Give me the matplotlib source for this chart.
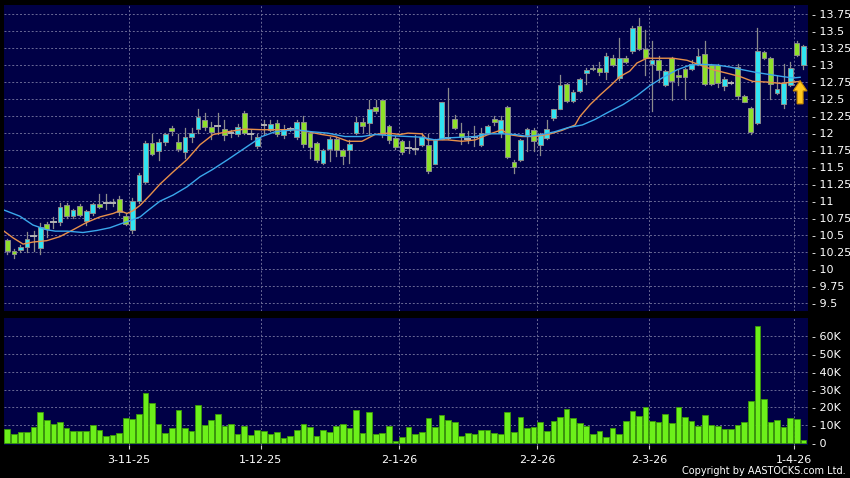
import numpy as np
import matplotlib
matplotlib.use("Agg")
import matplotlib.pyplot as plt
from matplotlib.patches import Rectangle

# Daily candles, one per trading day (HKD).
OPEN = [10.43, 10.27, 10.29, 10.33, 10.49, 10.31, 10.66, 10.70, 10.69, 10.95,
        10.78, 10.93, 10.71, 10.82, 10.96, 10.98, 10.98, 11.03, 10.78, 10.58,
        11.01, 11.28, 11.86, 11.74, 11.87, 12.08, 11.87, 11.72, 11.94, 12.06,
        12.20, 12.09, 12.10, 12.06, 12.00, 11.98, 12.29, 11.99, 11.81, 12.12,
        12.05, 12.15, 11.97, 12.06, 11.94, 12.16, 12.00, 11.85, 11.56, 11.76,
        11.91, 11.75, 11.75, 12.00, 12.17, 12.15, 12.38, 12.48, 12.10, 11.93,
        11.88, 11.78, 11.77, 11.83, 11.83, 11.55, 11.92, 11.93, 12.21, 12.00,
        11.92, 11.95, 11.83, 12.00, 12.21, 12.00, 12.38, 11.58, 11.61, 11.97,
        12.05, 11.82, 11.93, 12.22, 12.36, 12.72, 12.47, 12.62, 12.88, 12.94,
        12.96, 12.90, 13.10, 12.81, 13.11, 13.20, 13.58, 13.24, 13.02, 13.07,
        12.71, 13.10, 12.86, 12.94, 12.94, 13.02, 13.16, 13.00, 13.00, 12.69,
        12.74, 12.97, 12.54, 12.37, 12.15, 13.19, 13.10, 12.59, 12.43, 12.71,
        13.33, 13.00]
HIGH = [10.45, 10.30, 10.36, 10.55, 10.56, 10.68, 10.69, 10.77, 10.97, 10.98,
        10.89, 10.96, 10.87, 10.98, 11.10, 11.10, 11.03, 11.08, 10.82, 11.05,
        11.41, 11.88, 11.99, 11.92, 12.00, 12.11, 11.99, 12.07, 12.07, 12.35,
        12.29, 12.17, 12.29, 12.20, 12.04, 12.13, 12.32, 12.05, 11.98, 12.19,
        12.19, 12.19, 12.12, 12.09, 12.19, 12.25, 12.02, 11.87, 11.76, 11.95,
        11.95, 11.77, 11.90, 12.24, 12.22, 12.49, 12.49, 12.49, 12.12, 11.96,
        11.90, 11.88, 11.97, 12.00, 11.98, 11.91, 12.46, 12.66, 12.27, 12.15,
        12.03, 12.10, 12.07, 12.12, 12.25, 12.25, 12.40, 11.61, 11.92, 12.08,
        12.07, 12.00, 12.20, 12.36, 12.86, 12.73, 12.63, 12.81, 12.96, 13.00,
        13.05, 13.17, 13.15, 13.40, 13.13, 13.57, 13.69, 13.52, 13.35, 13.13,
        12.93, 13.12, 12.93, 12.96, 13.08, 13.24, 13.35, 13.02, 13.02, 12.83,
        12.76, 13.02, 12.56, 12.39, 13.55, 13.21, 13.12, 12.84, 13.01, 13.04,
        13.36, 13.29]
LOW = [10.23, 10.16, 10.26, 10.26, 10.27, 10.22, 10.48, 10.60, 10.65, 10.76,
       10.76, 10.78, 10.65, 10.80, 10.90, 10.89, 10.93, 10.80, 10.65, 10.54,
       10.98, 11.27, 11.68, 11.60, 11.83, 11.97, 11.74, 11.63, 11.87, 12.00,
       12.05, 11.92, 11.98, 11.90, 11.95, 11.96, 11.98, 11.92, 11.78, 11.98,
       12.03, 11.96, 11.93, 12.03, 11.92, 11.80, 11.63, 11.58, 11.55, 11.59,
       11.66, 11.54, 11.56, 11.98, 12.02, 11.98, 12.30, 11.95, 11.86, 11.76,
       11.70, 11.71, 11.70, 11.81, 11.42, 11.54, 11.91, 11.91, 12.06, 11.84,
       11.85, 11.81, 11.81, 11.98, 12.12, 11.95, 11.64, 11.42, 11.59, 11.74,
       11.74, 11.68, 11.91, 12.20, 12.35, 12.46, 12.45, 12.60, 12.72, 12.93,
       12.86, 12.80, 12.98, 12.78, 13.03, 13.18, 13.22, 12.86, 12.32, 12.75,
       12.69, 12.48, 12.70, 12.50, 12.93, 13.00, 12.70, 12.70, 12.68, 12.63,
       12.72, 12.50, 12.45, 11.99, 12.13, 13.09, 12.50, 12.57, 12.37, 12.69,
       13.14, 12.94]
CLOSE = [10.27, 10.22, 10.32, 10.45, 10.49, 10.62, 10.59, 10.70, 10.91, 10.78,
         10.87, 10.80, 10.85, 10.96, 10.91, 10.98, 10.98, 10.84, 10.66, 11.01,
         11.38, 11.86, 11.70, 11.87, 11.98, 12.03, 11.76, 11.94, 12.00, 12.24,
         12.09, 12.02, 12.10, 11.97, 12.00, 12.09, 12.00, 11.99, 11.94, 12.12,
         12.13, 11.98, 12.06, 12.06, 12.16, 11.84, 11.79, 11.61, 11.75, 11.91,
         11.75, 11.67, 11.84, 12.17, 12.10, 12.36, 12.32, 11.99, 11.90, 11.80,
         11.72, 11.78, 11.77, 11.95, 11.45, 11.90, 12.45, 11.93, 12.08, 11.94,
         11.92, 11.95, 12.00, 12.10, 12.16, 12.20, 11.65, 11.50, 11.90, 12.06,
         11.88, 11.99, 12.06, 12.35, 12.71, 12.47, 12.61, 12.79, 12.93, 12.96,
         12.90, 13.14, 13.00, 13.10, 13.05, 13.55, 13.24, 13.10, 13.08, 12.92,
         12.91, 12.76, 12.83, 12.83, 13.02, 13.13, 12.72, 12.72, 12.73, 12.80,
         12.74, 12.54, 12.46, 12.01, 13.20, 13.11, 12.72, 12.65, 12.74, 12.96,
         13.15, 13.28]
VOLUME_K = [7.8, 5.0, 6.3, 6.5, 8.9, 17.5, 13.0, 10.6, 11.7, 8.6,
            6.9, 6.9, 6.7, 10.2, 7.4, 4.3, 4.6, 5.8, 14.1, 13.6,
            16.4, 27.9, 22.7, 10.8, 5.6, 8.6, 18.6, 8.4, 6.9, 21.2,
            10.4, 13.2, 16.5, 9.5, 10.6, 5.0, 9.7, 4.5, 7.2, 6.9,
            5.0, 6.5, 3.2, 4.3, 7.4, 10.8, 8.9, 4.1, 7.2, 6.1,
            9.7, 10.8, 8.4, 18.6, 5.6, 17.3, 5.4, 5.8, 9.7, 1.3,
            3.7, 8.9, 5.4, 6.1, 14.0, 8.9, 15.8, 13.0, 11.7, 4.1,
            5.6, 5.2, 7.4, 7.4, 5.6, 5.2, 17.7, 6.5, 14.5, 8.7,
            8.9, 11.7, 6.9, 12.5, 14.9, 19.0, 14.0, 11.5, 9.7, 5.0,
            6.9, 3.7, 8.7, 5.2, 12.6, 18.0, 15.2, 20.4, 12.5, 11.7,
            16.4, 11.2, 20.4, 14.9, 12.6, 9.7, 15.6, 10.0, 9.7, 8.0,
            8.0, 10.4, 12.1, 23.6, 65.6, 24.7, 12.1, 13.0, 9.3, 14.3,
            13.4, 1.9]

# First trading day of each month shown, as a candle index.
MONTH_STARTS = [19, 39, 60, 81, 98, 120]
MONTH_LABELS = ["3-11-25", "1-12-25", "2-1-26", "2-2-26", "2-3-26", "1-4-26"]

# The two moving averages, read at points along each line (candle index, price).
FAST_MA_AT = [-0.5, 0.9, 2.4, 3.9, 6.0, 8.0, 10.0, 12.1, 14.1, 16.1, 17.1, 18.2,
              19.1, 20.2, 21.7, 23.2, 25.2, 27.3, 29.3, 31.3, 33.5, 36.1, 38.7,
              41.1, 43.7, 45.7, 47.8, 49.8, 51.8, 53.9, 55.9, 57.9, 59.7, 60.9,
              63.0, 63.9, 67.0, 69.1, 71.1, 73.1, 75.2, 76.1, 78.2, 80.2, 82.2,
              84.3, 86.3, 87.0, 88.6, 90.1, 91.6, 93.1, 94.6, 95.7, 97.2, 99.2,
              101.2, 103.3, 105.3, 107.3, 109.4, 111.4, 113.3, 115.5, 117.5,
              119.4, 120.5]
FAST_MA = [10.56, 10.46, 10.37, 10.40, 10.42, 10.48, 10.58, 10.69, 10.77, 10.82,
           10.86, 10.82, 10.86, 10.94, 11.09, 11.25, 11.43, 11.61, 11.83, 11.98,
           12.02, 12.06, 12.05, 12.05, 12.05, 12.02, 11.98, 11.95, 11.88, 11.88,
           11.98, 12.00, 11.98, 12.00, 11.99, 11.90, 11.90, 11.88, 11.90, 11.98,
           12.05, 11.98, 11.95, 11.95, 11.98, 12.04, 12.12, 12.24, 12.42, 12.56,
           12.69, 12.83, 12.91, 13.03, 13.10, 13.10, 13.10, 13.07, 13.00, 12.93,
           12.88, 12.83, 12.76, 12.75, 12.73, 12.75, 12.76]
SLOW_MA_AT = [-0.5, 1.9, 3.9, 6.0, 7.3, 9.1, 11.5, 13.6, 15.6, 17.6, 19.1, 20.2,
              21.2, 23.2, 25.2, 27.3, 29.3, 31.1, 33.5, 36.1, 38.7, 40.7, 43.7,
              46.3, 48.7, 51.3, 53.9, 55.9, 58.9, 63.0, 65.0, 67.0, 69.1, 71.1,
              73.1, 75.2, 77.2, 79.1, 81.3, 83.2, 85.2, 87.4, 89.3, 91.2, 93.6,
              95.7, 97.7, 99.7, 101.8, 103.8, 105.7, 107.9, 109.9, 111.8, 113.9,
              115.9, 117.9, 119.4, 120.5]
SLOW_MA = [10.87, 10.78, 10.65, 10.58, 10.56, 10.56, 10.54, 10.57, 10.61, 10.68,
           10.73, 10.77, 10.85, 11.00, 11.09, 11.21, 11.36, 11.46, 11.61, 11.78,
           11.95, 12.02, 12.05, 12.02, 12.00, 11.95, 11.95, 11.98, 11.96, 11.94,
           11.90, 11.93, 11.94, 11.95, 11.99, 11.99, 11.98, 11.95, 11.98, 12.02,
           12.08, 12.12, 12.20, 12.30, 12.42, 12.55, 12.70, 12.82, 12.93, 13.00,
           13.01, 13.00, 12.97, 12.93, 12.89, 12.86, 12.83, 12.81, 12.82]

PANEL = "#000046"
GRID = "#6a6a96"
UP = "#30e4f2"
DOWN = "#8ee02a"
FLAT = "#b4b4b4"
OUTLINE = "#8c8c8c"
VOL_FILL = "#6cf01a"
VOL_EDGE = "#3c9a08"
FAST_COLOR = "#e8904a"
SLOW_COLOR = "#3aa8ec"
TEXT = "white"

W, H = 850, 478
XLIM = (-0.5, 121.7)
BODY = 0.72


def fmt_price(v):
    return "- " + f"{v:.2f}".rstrip("0").rstrip(".")


def dashed_grid(ax, yvals):
    for y in yvals:
        ax.axhline(y, color=GRID, lw=0.7, ls=(0, (2, 2)), zorder=1)
    for m in MONTH_STARTS:
        ax.axvline(m - 0.5, color=GRID, lw=0.7, ls=(0, (2, 2)), zorder=1)


def style_axis(ax):
    ax.set_facecolor(PANEL)
    for spine in ax.spines.values():
        spine.set_visible(False)
    ax.set_xlim(*XLIM)
    ax.yaxis.tick_right()
    ax.tick_params(axis="y", length=0, pad=3, labelsize=8, labelcolor=TEXT)


def draw_candles(ax):
    for i, (o, h, l, c) in enumerate(zip(OPEN, HIGH, LOW, CLOSE)):
        ax.plot([i, i], [l, h], color=OUTLINE, lw=0.9, zorder=3)
        if abs(c - o) < 1e-9:
            ax.plot([i - BODY / 2, i + BODY / 2], [c, c], color=FLAT, lw=1.4, zorder=4)
            continue
        colour = UP if c > o else DOWN
        ax.add_patch(Rectangle((i - BODY / 2, min(o, c)), BODY, abs(c - o),
                               facecolor=colour, edgecolor=OUTLINE, lw=0.7, zorder=4))


def main():
    fig = plt.figure(figsize=(W / 100, H / 100), dpi=100, facecolor="black")

    ax = fig.add_axes([4 / W, 1 - 311 / H, 804 / W, 306 / H])
    style_axis(ax)
    ax.set_ylim(9.387, 13.882)
    ticks = np.arange(9.5, 13.76, 0.25)
    dashed_grid(ax, ticks)
    ax.set_yticks(ticks)
    ax.set_yticklabels([fmt_price(v) for v in ticks])
    ax.set_xticks([])

    draw_candles(ax)
    ax.plot(FAST_MA_AT, FAST_MA, color=FAST_COLOR, lw=1.0, zorder=5)
    ax.plot(SLOW_MA_AT, SLOW_MA, color=SLOW_COLOR, lw=1.0, zorder=5)

    # The yellow marker under the latest session.
    last = len(CLOSE) - 1
    ax.arrow(last - 0.5, 12.43, 0, 0.34, width=0.9, head_width=2.1, head_length=0.15,
             length_includes_head=True, facecolor="#ffc81e", edgecolor="#c98a00",
             lw=0.8, zorder=6)

    vax = fig.add_axes([4 / W, 1 - 445 / H, 804 / W, 127 / H])
    style_axis(vax)
    vax.set_ylim(-0.95, 69.9)
    vticks = np.arange(0, 61, 10)
    dashed_grid(vax, vticks[1:])
    vax.bar(np.arange(len(VOLUME_K)), VOLUME_K, width=0.86, color=VOL_FILL,
            edgecolor=VOL_EDGE, lw=0.6, zorder=3)
    vax.set_yticks(vticks)
    vax.set_yticklabels(["- 0"] + [f"- {v}K" for v in vticks[1:]])
    vax.set_xticks([m - 0.5 for m in MONTH_STARTS])
    vax.set_xticklabels(MONTH_LABELS)
    vax.tick_params(axis="x", length=3, width=0.8, color="#cccccc", pad=4.5,
                    labelsize=8, labelcolor=TEXT)

    fig.text(846 / W, 1 - 471 / H, "Copyright by AASTOCKS.com Ltd.", ha="right",
             va="center", color=TEXT, fontsize=7)

    fig.savefig("out.png", dpi=100, facecolor="black")


if __name__ == "__main__":
    main()
